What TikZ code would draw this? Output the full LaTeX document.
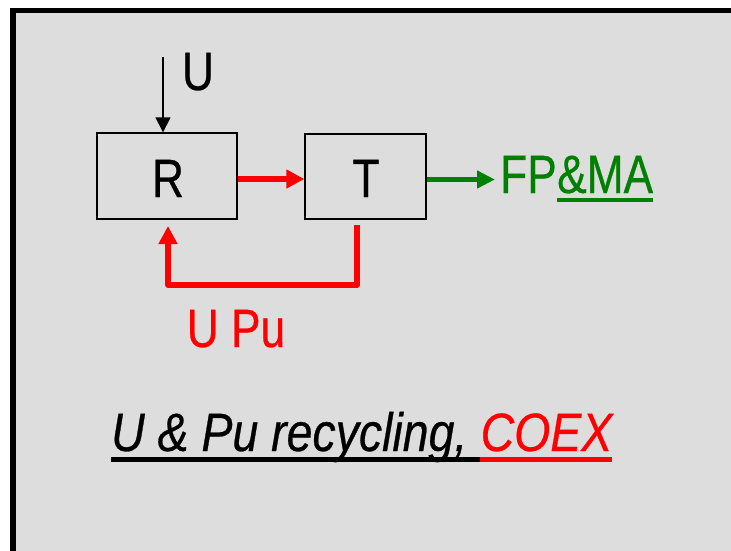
\documentclass[tikz,border=0pt]{standalone}
\usepackage{fontspec}
\setmainfont[FakeStretch=0.82,FakeBold=0.5]{Liberation Sans}
\newfontfamily\capfont[FakeStretch=0.86,FakeBold=0.5]{Liberation Sans}
\usetikzlibrary{arrows.meta}
\definecolor{bggray}{RGB}{221,221,221}
\definecolor{dgreen}{RGB}{0,128,0}
\begin{document}
\begin{tikzpicture}[x=1pt,y=-1pt,
  blockbox/.style={draw=black,line width=1.3pt,inner sep=0pt},
  lbl/.style={inner sep=0pt,font=\fontsize{54}{60}\selectfont},
  caplbl/.style={inner sep=0pt,font=\capfont\fontsize{54}{60}\selectfont\itshape},
  thickred/.style={draw=red,line width=5.8pt,-{Triangle[length=18pt,width=18pt]}},
  thickgreen/.style={draw=dgreen,line width=5.8pt,-{Triangle[length=18pt,width=17pt]}},
  thinblack/.style={draw=black,line width=1.3pt,-{Triangle[length=15pt,width=15pt]}}]
\clip (0,0) rectangle (731,550);
\fill[white] (0,0) rectangle (731,550);
\filldraw[fill=bggray,draw=black,line width=5.5pt] (13,10.5) rectangle (780,600);
% boxes
\node[blockbox,minimum width=140pt,minimum height=86pt] (R) at (167,176) {};
\node[blockbox,minimum width=121pt,minimum height=85pt] (T) at (365.5,176.5) {};
\node[lbl,anchor=base] (Rt) at (168,197) {R};
\node[lbl,anchor=base] (Tt) at (366,197) {T};
% U input
\coordinate (Ustart) at (163,57);
\draw[thinblack] (Ustart) -- (R.north -| Ustart);
\node[lbl,anchor=base] (Ut) at (198,90) {U};
% R -> T
\draw[thickred] (R.east |- 0,179) -- (T.west |- 0,179);
% T -> FP&MA
\node[lbl,anchor=base west,text=dgreen] (fp) at (500,193) {FP};
\node[lbl,anchor=base west,text=dgreen] (ma) at (fp.base east) {\&MA};
\coordinate (gtip) at (495,179.5);
\draw[thickgreen] (T.east |- gtip) -- (gtip);
\draw[dgreen,line width=3.3pt] ([yshift=-7pt]ma.base west) -- ([yshift=-7pt]ma.base east);
% feedback
\coordinate (fbA) at (357,225);
\coordinate (fbB) at (357,285);
\coordinate (fbC) at (168,285);
\coordinate (fbD) at (168,226);
\draw[thickred,line join=round] (fbA) -- (fbB) -- (fbC) -- (fbD);
\node[lbl,anchor=base,text=red] (upu) at (236,347) {U Pu};
% bottom caption
\node[caplbl,anchor=base west] (cap1) at (111,451) {U \& Pu recycling,\ \mbox{}};
\node[caplbl,anchor=base west,text=red] (cap2) at (cap1.base east) {COEX};
\draw[black,line width=5pt] ([yshift=-8pt]cap1.base west) -- ([yshift=-8pt]cap1.base east);
\draw[red,line width=5pt] ([yshift=-8pt]cap2.base west) -- ([yshift=-8pt]cap2.base east);
\end{tikzpicture}
\end{document}
